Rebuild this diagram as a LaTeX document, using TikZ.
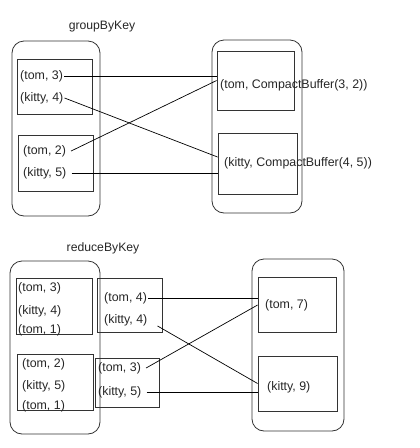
\documentclass[tikz,border=0pt]{standalone}
\usepackage{fontspec}
\setmainfont{Liberation Sans}
\begin{document}
\begin{tikzpicture}[x=1pt,y=-1pt,
  outer/.style={draw=black!80,line width=0.8pt,rounded corners=12pt,inner sep=0pt},
  inbox/.style={draw=black!80,line width=0.8pt,inner sep=0pt},
  lbl/.style={anchor=west,inner sep=0pt,font=\fontsize{12.4}{14}\selectfont,text=black!85},
  ttl/.style={inner sep=0pt,font=\fontsize{12.2}{14}\selectfont,text=black!85},
  conn/.style={draw=black,line width=0.7pt}]
\useasboundingbox (0,0) rectangle (420,448);
% ---------- groupByKey ----------
\node[ttl] (gtitle) at (102,27) {groupByKey};
\node[outer,minimum width=88pt,minimum height=175pt] (gL) at (56,128.5) {};
\node[inbox,minimum width=75pt,minimum height=55pt] (gB1) at (54.5,86.5) {};
\node[inbox,minimum width=75pt,minimum height=56pt] (gB2) at (55.5,163) {};
\node[outer,minimum width=90pt,minimum height=173pt] (gR) at (257,126.5) {};
\node[inbox,minimum width=77pt,minimum height=59pt] (gR1) at (255.5,80.5) {};
\node[inbox,minimum width=79pt,minimum height=61pt] (gR2) at (257.5,163.5) {};
\node[lbl] (gt3) at (20,76) {(tom, 3)};
\node[lbl] (gk4) at (20,98) {(kitty, 4)};
\node[lbl] (gt2) at (23,151) {(tom, 2)};
\node[lbl] (gk5) at (23,173) {(kitty, 5)};
\node[lbl] (gr1) at (220,85) {(tom, CompactBuffer(3, 2))};
\node[lbl] (gr2) at (224,163) {(kitty, CompactBuffer(4, 5))};
\draw[conn] ([xshift=1pt]gt3.east) -- (gt3.east -| gR1.west);
\draw[conn] ([xshift=1pt]gk4.east) -- (gR2.west |- gr2.north);
\draw[conn] ([xshift=5pt]gt2.east) -- (gR1.west);
\draw[conn] ([xshift=5pt]gk5.east) -- (gk5.east -| gR2.west);
% ---------- reduceByKey ----------
\node[ttl] (rtitle) at (103,248) {reduceByKey};
\node[outer,minimum width=90pt,minimum height=173pt] (rL) at (55,347.5) {};
\node[inbox,minimum width=76pt,minimum height=56pt] (rB1) at (54,306) {};
\node[inbox,minimum width=76pt,minimum height=56pt] (rB2) at (55,382) {};
\node[inbox,minimum width=65pt,minimum height=54pt] (mB1) at (129.5,305) {};
\node[inbox,minimum width=64pt,minimum height=49pt] (mB2) at (127,382.5) {};
\node[outer,minimum width=92pt,minimum height=172pt] (rR) at (298,345) {};
\node[inbox,minimum width=78pt,minimum height=55pt] (rR1) at (297,304.5) {};
\node[inbox,minimum width=79pt,minimum height=55pt] (rR2) at (297.5,383.5) {};
\node[lbl] (lt3) at (18,288) {(tom, 3)};
\node[lbl] (lk4) at (18,311) {(kitty, 4)};
\node[lbl] (lt1) at (18,330) {(tom, 1)};
\node[lbl] (lt2) at (22,364) {(tom, 2)};
\node[lbl] (lk5) at (22,386) {(kitty, 5)};
\node[lbl] (lt1b) at (22,406) {(tom, 1)};
\node[lbl] (mt4) at (104,298) {(tom, 4)};
\node[lbl] (mk4) at (104,320) {(kitty, 4)};
\node[lbl] (mt3) at (98,368) {(tom, 3)};
\node[lbl] (mk5) at (98,392) {(kitty, 5)};
\node[lbl] (rt7) at (265,305) {(tom, 7)};
\node[lbl] (rk9) at (267,387) {(kitty, 9)};
\draw[conn] ([xshift=1pt]mt4.east) -- (mt4.east -| rR1.west);
\draw[conn] ([shift={(10,6)}]mk4.east) -- (rR2.west);
\draw[conn] ([xshift=5pt]mt3.east) -- (rR1.west |- rt7.west);
\draw[conn] ([xshift=5pt]mk5.east) -- (mk5.east -| rR2.west);
\end{tikzpicture}
\end{document}
